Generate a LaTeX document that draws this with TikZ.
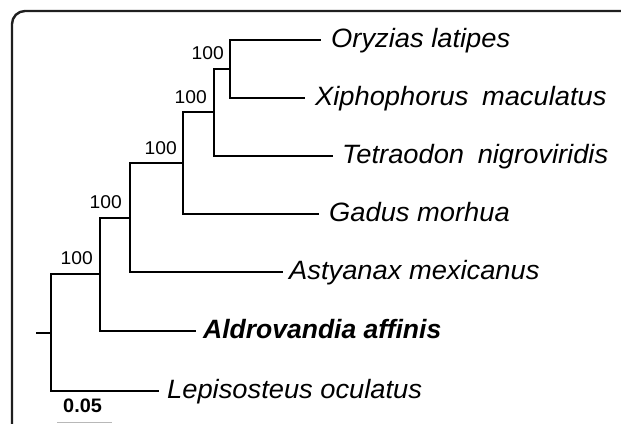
\documentclass[tikz,border=0pt]{standalone}
\usepackage{fontspec}
\usepackage{graphicx}
\setmainfont{Liberation Sans}
\begin{document}
\begin{tikzpicture}[x=1pt,y=-1pt,
  branch/.style={line width=2.4pt, black, line cap=rect},
  taxon/.style={anchor=base west, inner sep=0pt, font=\fontsize{26.5}{26.5}\selectfont\itshape},
  boot/.style={anchor=base east, inner sep=0pt, font=\fontsize{18.5}{18.5}\selectfont},
  frameline/.style={line width=2.4pt, color=black!88, rounded corners=13pt}]
\useasboundingbox (0,0) rectangle (621,423);
% frame
\draw[frameline] (12,440) -- (12,11) -- (640,11);
% internal nodes
\coordinate (stub) at (37,333);
\coordinate (n1) at (51,333);
\coordinate (n2) at (100,274);
\coordinate (n3) at (130,218);
\coordinate (n4) at (183,163);
\coordinate (n5) at (214,112);
\coordinate (n6) at (230,69);
% leaf tips
\coordinate (eO) at (320,40);
\coordinate (eX) at (304,98);
\coordinate (eT) at (332,156);
\coordinate (eG) at (318,214);
\coordinate (eA) at (282,272);
\coordinate (eD) at (195,331);
\coordinate (eL) at (158,391);
% branches
\draw[branch] (stub) -- (n1);
\draw[branch] (n1) |- (n2);
\draw[branch] (n1) |- (eL);
\draw[branch] (n2) |- (n3);
\draw[branch] (n2) |- (eD);
\draw[branch] (n3) |- (n4);
\draw[branch] (n3) |- (eA);
\draw[branch] (n4) |- (n5);
\draw[branch] (n4) |- (eG);
\draw[branch] (n5) |- (n6);
\draw[branch] (n5) |- (eT);
\draw[branch] (n6) |- (eO);
\draw[branch] (n6) |- (eX);
% taxa
\node[taxon] (tO) at (331,47) {\scalebox{1.03}[1]{Oryzias latipes}};
\node[taxon] (tX) at (315,105.2) {\scalebox{1.03}[1]{Xiphophorus\hspace{0.5em}maculatus}};
\node[taxon] (tT) at (342,163.2) {\scalebox{1.03}[1]{Tetraodon\hspace{0.5em}nigroviridis}};
\node[taxon] (tG) at (329,221.5) {\scalebox{1.03}[1]{Gadus morhua}};
\node[taxon] (tA) at (289,279.5) {\scalebox{1.03}[1]{Astyanax mexicanus}};
\node[taxon] (tD) at (203,338.2) {\scalebox{1.0}[1]{\bfseries Aldrovandia affinis}};
\node[taxon] (tL) at (167,398.2) {\scalebox{1.03}[1]{Lepisosteus oculatus}};
% bootstrap values
\node[boot] (b6) at (224,59.8) {\scalebox{1.04}[1]{100}};
\node[boot] (b5) at (207,103.5) {\scalebox{1.04}[1]{100}};
\node[boot] (b4) at (177,154.5) {\scalebox{1.04}[1]{100}};
\node[boot] (b3) at (122,208.5) {\scalebox{1.04}[1]{100}};
\node[boot] (b2) at (93,264.5) {\scalebox{1.04}[1]{100}};
% scale
\node[anchor=base west, inner sep=0pt, font=\fontsize{19.5}{19.5}\selectfont\bfseries] (sc) at (63,412.5) {\scalebox{1.02}[1]{0.05}};
\coordinate (s1) at (57,422.3);
\coordinate (s2) at (112,422.3);
\draw[line width=1.5pt, color=black!28] (s1) -- (s2);
\end{tikzpicture}
\end{document}
